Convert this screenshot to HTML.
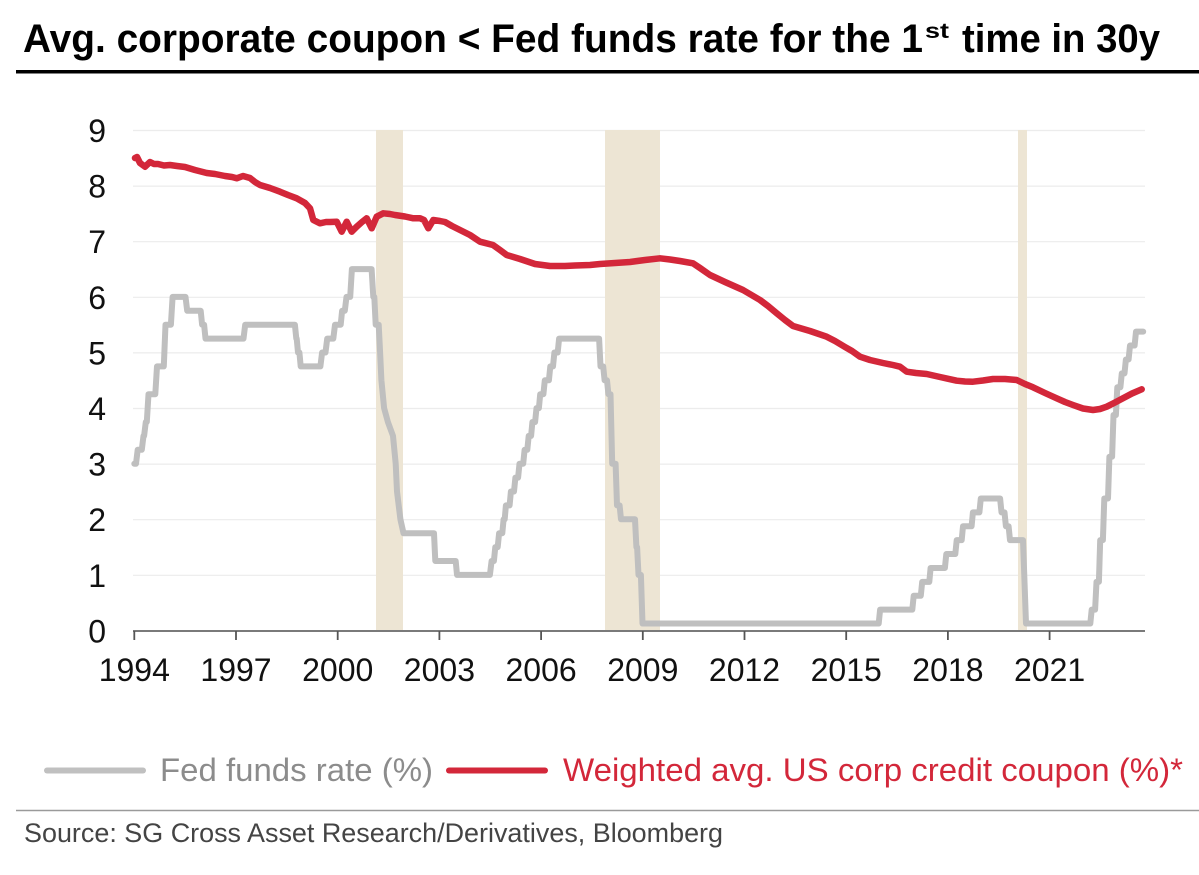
<!DOCTYPE html>
<html>
<head>
<meta charset="utf-8">
<style>
  html, body { margin:0; padding:0; background:#fff; }
  svg { display:block; }
  text { font-family: "Liberation Sans", Arial, sans-serif; }
</style>
</head>
<body>
<svg width="1199" height="875" viewBox="0 0 1199 875" xmlns="http://www.w3.org/2000/svg">
  <rect x="0" y="0" width="1199" height="875" fill="#ffffff"/>

  <!-- Title -->
  <text x="23" y="52" font-size="40" font-weight="bold" fill="#000" textLength="900" lengthAdjust="spacingAndGlyphs">Avg. corporate coupon &lt; Fed funds rate for the 1</text>
  <text x="925" y="38" font-size="21" font-weight="bold" fill="#000" textLength="24" lengthAdjust="spacingAndGlyphs">st</text>
  <text x="962" y="52" font-size="40" font-weight="bold" fill="#000" textLength="198" lengthAdjust="spacingAndGlyphs">time in 30y</text>
  <rect x="16" y="70" width="1183" height="3.5" fill="#000"/>

  <!-- Gridlines -->
  <g stroke="#ececec" stroke-width="1.2">
    <line x1="133" y1="130.5" x2="1145" y2="130.5"/>
    <line x1="133" y1="186.1" x2="1145" y2="186.1"/>
    <line x1="133" y1="241.7" x2="1145" y2="241.7"/>
    <line x1="133" y1="297.3" x2="1145" y2="297.3"/>
    <line x1="133" y1="352.9" x2="1145" y2="352.9"/>
    <line x1="133" y1="408.5" x2="1145" y2="408.5"/>
    <line x1="133" y1="464.1" x2="1145" y2="464.1"/>
    <line x1="133" y1="519.7" x2="1145" y2="519.7"/>
    <line x1="133" y1="575.3" x2="1145" y2="575.3"/>
  </g>

  <!-- Recession bands -->
  <g fill="#ede5d4">
    <rect x="376" y="130" width="27" height="501"/>
    <rect x="605" y="130" width="55" height="501"/>
    <rect x="1018" y="130" width="9" height="501"/>
  </g>

  <!-- Y axis labels -->
  <g font-size="32" fill="#111" text-anchor="end">
    <text x="106" y="142">9</text>
    <text x="106" y="197.6">8</text>
    <text x="106" y="253.2">7</text>
    <text x="106" y="308.8">6</text>
    <text x="106" y="364.4">5</text>
    <text x="106" y="420">4</text>
    <text x="106" y="475.6">3</text>
    <text x="106" y="531.2">2</text>
    <text x="106" y="586.8">1</text>
    <text x="106" y="642.4">0</text>
  </g>

  <!-- X axis -->
  <line x1="133" y1="631" x2="1145" y2="631" stroke="#7a7a7a" stroke-width="2"/>
  <g stroke="#555" stroke-width="1.8">
    <line x1="134.3" y1="631" x2="134.3" y2="640"/>
    <line x1="236" y1="631" x2="236" y2="640"/>
    <line x1="337.7" y1="631" x2="337.7" y2="640"/>
    <line x1="439.4" y1="631" x2="439.4" y2="640"/>
    <line x1="541.1" y1="631" x2="541.1" y2="640"/>
    <line x1="642.8" y1="631" x2="642.8" y2="640"/>
    <line x1="744.5" y1="631" x2="744.5" y2="640"/>
    <line x1="846.2" y1="631" x2="846.2" y2="640"/>
    <line x1="947.9" y1="631" x2="947.9" y2="640"/>
    <line x1="1049.6" y1="631" x2="1049.6" y2="640"/>
  </g>
  <g font-size="32" fill="#111" text-anchor="middle">
    <text x="134.3" y="681">1994</text>
    <text x="236" y="681">1997</text>
    <text x="337.7" y="681">2000</text>
    <text x="439.4" y="681">2003</text>
    <text x="541.1" y="681">2006</text>
    <text x="642.8" y="681">2009</text>
    <text x="744.5" y="681">2012</text>
    <text x="846.2" y="681">2015</text>
    <text x="947.9" y="681">2018</text>
    <text x="1049.6" y="681">2021</text>
  </g>

  <!-- Fed funds rate (gray) -->
  <path fill="none" stroke="#bfbfbf" stroke-width="6" stroke-linejoin="round" stroke-linecap="round" d="
M134.3,463.7 L136.0,463.7 L137.7,449.8 L141.8,449.8 L143.5,435.9 L144.1,435.9 L145.8,422.0 L146.8,422.0
L148.5,394.2 L155.3,394.2 L157.0,366.4 L163.8,366.4 L165.5,324.7 L170.9,324.7 L172.6,296.9 L185.5,296.9
L187.2,310.8 L200.7,310.8 L202.1,324.7 L204.1,324.7 L205.5,338.6 L243.5,338.6 L245.2,324.7 L294.9,324.7
L296.3,338.6 L296.7,338.6 L298.0,352.5 L299.4,352.5 L300.7,366.4 L320.4,366.4 L322.1,352.5 L325.5,352.5
L327.2,338.6 L333.3,338.6 L335.0,324.7 L340.7,324.7 L342.1,310.8 L344.8,310.8 L346.5,296.9 L350.2,296.9
L351.9,269.1 L371.6,269.1 L373.3,296.9 L374.3,296.9 L375.7,324.7 L378.7,324.7 L380.1,352.5 L381.4,380.3
L384.1,408.1 L387.9,422.0 L393.0,435.9 L395.7,463.7 L397.0,491.5 L400.4,519.3 L403.5,533.2 L434.0,533.2
L435.3,561.0 L455.7,561.0 L457.0,574.9 L489.9,574.9 L491.6,561.0
L493.9,561.0 L495.3,547.1 L497.7,547.1 L499.1,533.2 L502.3,533.2 L503.6,519.3 L504.7,519.3 L505.9,505.4
L509.6,505.4 L510.9,491.5 L514.0,491.5 L515.4,477.6 L518.1,477.6 L519.5,463.7 L523.2,463.7 L524.6,449.8
L527.3,449.8 L528.7,435.9 L531.1,435.9 L532.4,422.0 L535.1,422.0 L536.5,408.1 L538.9,408.1 L540.2,394.2
L543.4,394.2 L544.8,380.3 L548.9,380.3 L550.3,366.4 L553.0,366.4 L554.4,352.5 L557.7,352.5 L559.1,338.6
L599.1,338.6 L600.5,366.4 L603.2,366.4 L604.6,380.3 L607.0,380.3 L608.4,394.2 L610.5,394.2 L612.2,463.7
L615.6,463.7 L617.0,505.4 L619.6,505.4 L621.0,519.3 L635.0,519.3 L636.4,547.1 L637.1,547.1 L638.5,574.9
L640.9,574.9 L642.5,623.55
L878.7,623.55 L880.1,609.65 L912.3,609.65 L913.7,595.75 L920.8,595.75 L922.2,581.85 L929.3,581.85 L930.6,567.95
L944.9,567.95 L946.3,554.05 L955.3,554.05 L956.7,540.15 L961.7,540.15 L963.0,526.25 L971.6,526.25 L972.9,512.35
L979.4,512.35 L980.8,498.45 L1000.1,498.45 L1001.5,512.35 L1004.5,512.35 L1005.9,526.25 L1008.6,526.25 L1010.0,540.15
L1023,540.15 L1026,623.55
L1090.3,623.55 L1091.7,609.65 L1095.1,609.65 L1096.5,581.85 L1098.9,581.85 L1100.2,540.15 L1102.9,540.15 L1104.3,498.45
L1108.0,498.45 L1109.4,456.75 L1112.1,456.75 L1113.5,415.05 L1115.9,415.05 L1117.3,387.25 L1120.4,387.25 L1121.8,373.35
L1124.5,373.35 L1125.9,359.45 L1128.6,359.45 L1130.0,345.55 L1134.6,345.55 L1136.0,331.65 L1143.2,331.65"/>

  <!-- Weighted avg coupon (red) -->
  <path fill="none" stroke="#d3273a" stroke-width="6.5" stroke-linejoin="round" stroke-linecap="round" d="
M135,158 L137,157 L140,163 L145,166.7 L150,162 L154,164 L158,164 L164,165.5 L170,165 L177,166 L185,167
L195,170 L206.7,173 L215,174 L225,176 L232,177 L236.7,178.3 L243,176 L250,178 L255,182 L260,185 L270,188
L280,191.7 L288,195 L296.7,198.3 L305,203 L310,208.3 L313.3,220 L320,223.3 L326,222 L330,222 L336.7,221.7
L341.7,231.7 L346.7,221.7 L351.7,231.7 L356.7,226.7 L362,222 L366.7,218.3 L371.7,228.3 L376.7,216.7
L383.3,213.3 L390,214 L395,215 L405,216.5 L413.3,218.3 L420,218.3 L424,220 L428.3,228.3 L433.3,220
L440,221 L445,222 L452,226 L460,230 L470,235 L480,241.7 L493,245 L500,250 L506.7,255 L520,259 L535,264
L550,266 L565,266 L575,265.5 L590,265 L600,264 L615,263 L630,262 L645,260 L660,258.3 L670,259.5 L680,261
L693,263.3 L700,268 L710,275 L725,282 L743,290 L760,300 L768,306 L776.7,313.3 L785,320 L793,326 L810,331
L826.7,336.7 L835,341 L845,347 L852,351 L860,356.7 L870,360 L883,363 L893,365 L900,366.7 L906.7,371.7
L916,373 L926.7,374 L940,377 L956.7,380.7 L965,381.5 L973,381.7 L983,380.5 L993,379 L1005,379 L1016.7,380
L1025,384 L1033,387.3 L1045,393 L1056.7,398.3 L1065,402 L1073,405 L1083,408.5 L1093,410 L1100,409
L1106.7,406.7 L1115,402.5 L1123,398.3 L1132,393.5 L1141.7,389.3"/>

  <!-- Legend -->
  <line x1="47" y1="770.5" x2="143" y2="770.5" stroke="#c0c0c0" stroke-width="6" stroke-linecap="round"/>
  <text x="160" y="781" font-size="32.5" fill="#8c8c8c" textLength="273" lengthAdjust="spacingAndGlyphs">Fed funds rate (%)</text>
  <line x1="449" y1="770.5" x2="545" y2="770.5" stroke="#d3273a" stroke-width="6" stroke-linecap="round"/>
  <text x="563" y="781" font-size="32.5" fill="#d3273a" textLength="620" lengthAdjust="spacingAndGlyphs">Weighted avg. US corp credit coupon (%)*</text>

  <!-- Separator and source -->
  <line x1="16" y1="810.5" x2="1199" y2="810.5" stroke="#9a9a9a" stroke-width="1.5"/>
  <text x="24" y="842" font-size="27" fill="#444" textLength="699" lengthAdjust="spacingAndGlyphs">Source: SG Cross Asset Research/Derivatives, Bloomberg</text>
</svg>
</body>
</html>
